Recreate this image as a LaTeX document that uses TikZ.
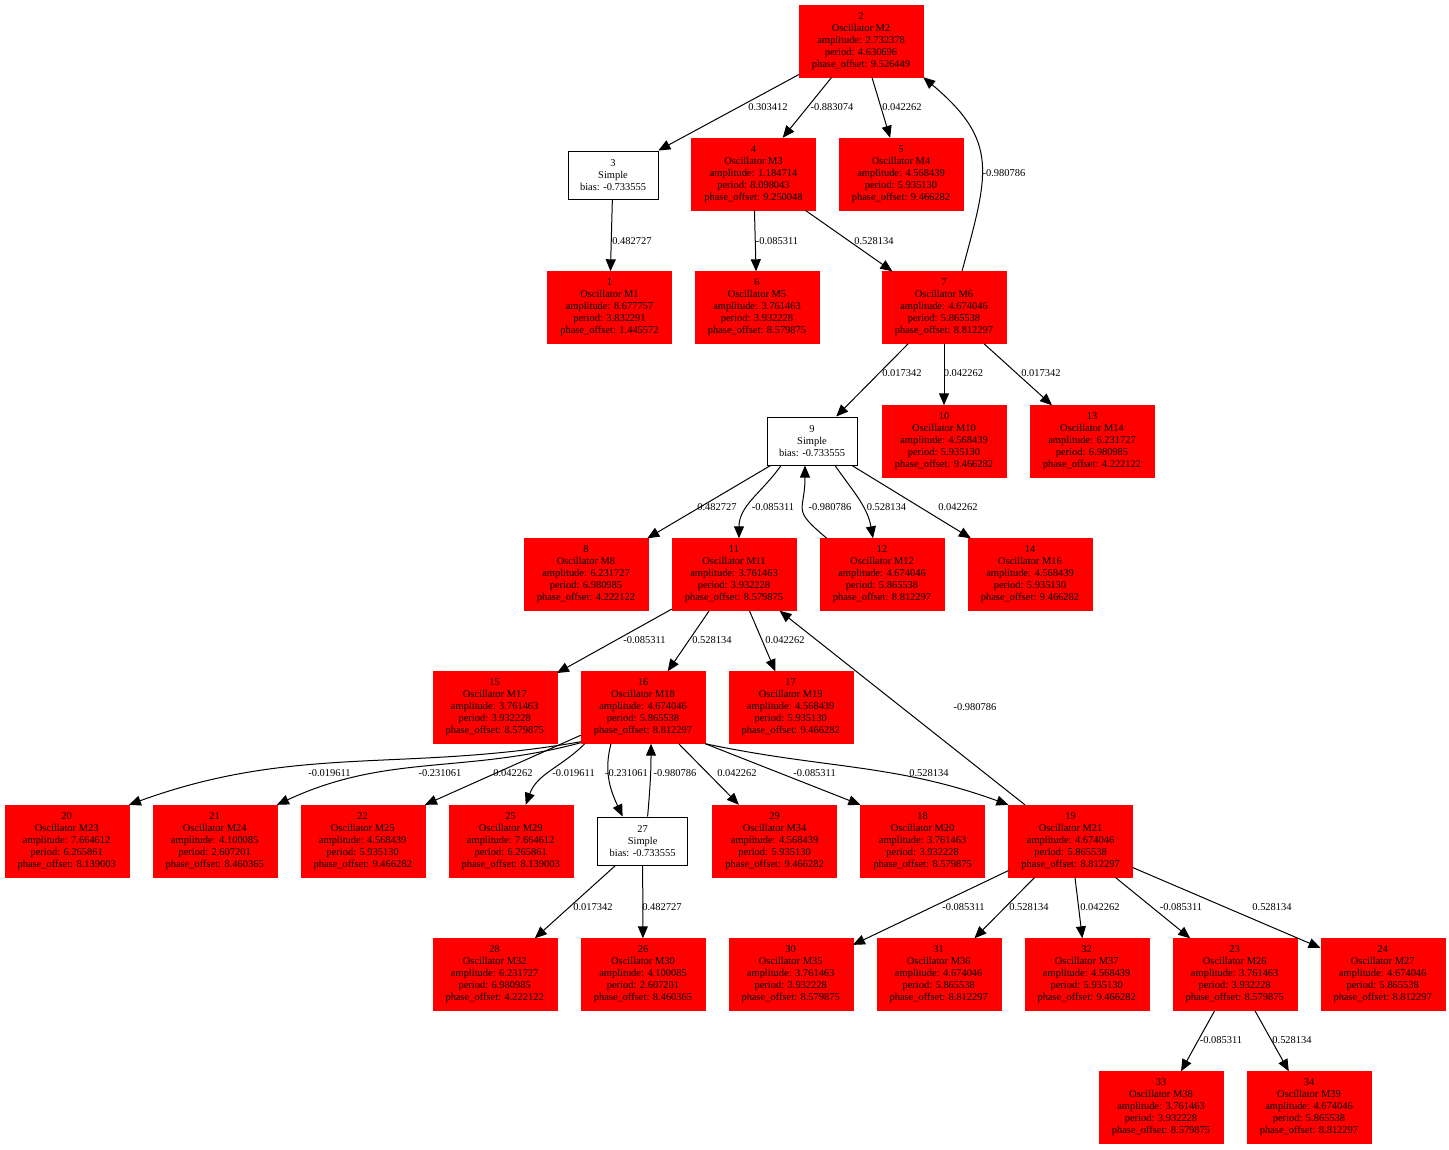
\documentclass[tikz,border=0pt]{standalone}
\usepackage{fontspec}
\setmainfont{Liberation Serif}
\usetikzlibrary{arrows.meta}
\begin{document}
\begin{tikzpicture}[x=1bp,y=-1bp,
  every node/.style={font=\fontsize{10.5}{12.1}\selectfont},
  osc/.style={draw=red,fill=red,minimum width=124bp,minimum height=72bp,inner sep=0pt,align=center},
  simple/.style={draw,fill=white,line width=1bp,minimum width=90bp,minimum height=48bp,inner sep=0pt,align=center},
  link/.style={line width=1bp,-{Triangle[length=12bp,width=10bp]}},
  wt/.style={inner sep=0pt}]
\useasboundingbox (0,0) rectangle (1449,1149);
% rank 0-2
\node[osc] (n2) at (861,41) {2\\Oscillator M2\\amplitude: 2.732378\\period: 4.630696\\phase\_offset: 9.526449};
\node[simple] (n3) at (613,175) {3\\Simple\\bias: -0.733555};
\node[osc] (n4) at (753.5,174) {4\\Oscillator M3\\amplitude: 1.184714\\period: 8.098043\\phase\_offset: 9.250048};
\node[osc] (n5) at (901,174) {5\\Oscillator M4\\amplitude: 4.568439\\period: 5.935130\\phase\_offset: 9.466282};
\node[osc] (n1) at (609.5,307.5) {1\\Oscillator M1\\amplitude: 8.677757\\period: 3.832291\\phase\_offset: 1.445572};
\node[osc] (n6) at (757,307.5) {6\\Oscillator M5\\amplitude: 3.761463\\period: 3.932228\\phase\_offset: 8.579875};
\node[osc] (n7) at (944,307.5) {7\\Oscillator M6\\amplitude: 4.674046\\period: 5.865538\\phase\_offset: 8.812297};
% rank 3-5
\node[simple] (n9) at (812,441) {9\\Simple\\bias: -0.733555};
\node[osc] (n10) at (944,441.5) {10\\Oscillator M10\\amplitude: 4.568439\\period: 5.935130\\phase\_offset: 9.466282};
\node[osc] (n13) at (1092,441.5) {13\\Oscillator M14\\amplitude: 6.231727\\period: 6.980985\\phase\_offset: 4.222122};
\node[osc] (n8) at (586,574.5) {8\\Oscillator M8\\amplitude: 6.231727\\period: 6.980985\\phase\_offset: 4.222122};
\node[osc] (n11) at (734,574.5) {11\\Oscillator M11\\amplitude: 3.761463\\period: 3.932228\\phase\_offset: 8.579875};
\node[osc] (n12) at (882,574.5) {12\\Oscillator M12\\amplitude: 4.674046\\period: 5.865538\\phase\_offset: 8.812297};
\node[osc] (n14) at (1030,574.5) {14\\Oscillator M16\\amplitude: 4.568439\\period: 5.935130\\phase\_offset: 9.466282};
\node[osc] (n15) at (494.7,707.5) {15\\Oscillator M17\\amplitude: 3.761463\\period: 3.932228\\phase\_offset: 8.579875};
\node[osc] (n16) at (643,707.5) {16\\Oscillator M18\\amplitude: 4.674046\\period: 5.865538\\phase\_offset: 8.812297};
\node[osc] (n17) at (790.7,707.5) {17\\Oscillator M19\\amplitude: 4.568439\\period: 5.935130\\phase\_offset: 9.466282};
% rank 6
\node[osc] (n20) at (66.7,841) {20\\Oscillator M23\\amplitude: 7.664612\\period: 6.265861\\phase\_offset: 8.139003};
\node[osc] (n21) at (214.7,841) {21\\Oscillator M24\\amplitude: 4.100085\\period: 2.607201\\phase\_offset: 8.460365};
\node[osc] (n22) at (362.7,841) {22\\Oscillator M25\\amplitude: 4.568439\\period: 5.935130\\phase\_offset: 9.466282};
\node[osc] (n25) at (510.7,841) {25\\Oscillator M29\\amplitude: 7.664612\\period: 6.265861\\phase\_offset: 8.139003};
\node[simple] (n27) at (642.6,841) {27\\Simple\\bias: -0.733555};
\node[osc] (n29) at (774.6,841) {29\\Oscillator M34\\amplitude: 4.568439\\period: 5.935130\\phase\_offset: 9.466282};
\node[osc] (n18) at (922.6,841) {18\\Oscillator M20\\amplitude: 3.761463\\period: 3.932228\\phase\_offset: 8.579875};
\node[osc] (n19) at (1070.6,841) {19\\Oscillator M21\\amplitude: 4.674046\\period: 5.865538\\phase\_offset: 8.812297};
% rank 7-8
\node[osc] (n28) at (494.7,974.5) {28\\Oscillator M32\\amplitude: 6.231727\\period: 6.980985\\phase\_offset: 4.222122};
\node[osc] (n26) at (643,974.5) {26\\Oscillator M30\\amplitude: 4.100085\\period: 2.607201\\phase\_offset: 8.460365};
\node[osc] (n30) at (790.7,974.5) {30\\Oscillator M35\\amplitude: 3.761463\\period: 3.932228\\phase\_offset: 8.579875};
\node[osc] (n31) at (938.7,974.5) {31\\Oscillator M36\\amplitude: 4.674046\\period: 5.865538\\phase\_offset: 8.812297};
\node[osc] (n32) at (1086.7,974.5) {32\\Oscillator M37\\amplitude: 4.568439\\period: 5.935130\\phase\_offset: 9.466282};
\node[osc] (n23) at (1234.7,974.5) {23\\Oscillator M26\\amplitude: 3.761463\\period: 3.932228\\phase\_offset: 8.579875};
\node[osc] (n24) at (1382.7,974.5) {24\\Oscillator M27\\amplitude: 4.674046\\period: 5.865538\\phase\_offset: 8.812297};
\node[osc] (n33) at (1161,1107.5) {33\\Oscillator M38\\amplitude: 3.761463\\period: 3.932228\\phase\_offset: 8.579875};
\node[osc] (n34) at (1309,1107.5) {34\\Oscillator M39\\amplitude: 4.674046\\period: 5.865538\\phase\_offset: 8.812297};
% edges from 2, 3, 4, 7
\draw[link] (n2) -- (n3) node[wt] at (768,107) {0.303412};
\draw[link] (n2) -- (n4) node[wt] at (832,107) {-0.883074};
\draw[link] (n2) -- (n5) node[wt] at (902,107) {0.042262};
\draw[link] ([xshift=18bp]n7.north) to[out=75,in=-40,looseness=1.3] (n2.south east) node[wt] at (1004,173) {-0.980786};
\draw[link] (n3) -- (n1) node[wt] at (632,241) {0.482727};
\draw[link] (n4) -- (n6) node[wt] at (777,241) {-0.085311};
\draw[link] (n4) -- (n7) node[wt] at (874,241) {0.528134};
\draw[link] (n7) -- (n9) node[wt] at (902,373) {0.017342};
\draw[link] (n7) -- (n10) node[wt] at (963.5,373) {0.042262};
\draw[link] (n7) -- (n13) node[wt] at (1041,373) {0.017342};
% edges round 9
\draw[link] (n9) -- (n8) node[wt] at (717,507) {0.482727};
\draw[link] ([xshift=-31bp]n9.south) to[out=-125,in=90] ([xshift=5bp]n11.north) node[wt] at (773,507) {-0.085311};
\draw[link] ([xshift=7bp]n12.north west) to[out=140,in=-90,looseness=1.6] ([xshift=-7bp]n9.south) node[wt] at (830,507) {-0.980786};
\draw[link] ([xshift=23bp]n9.south) to[out=-55,in=100] ([xshift=-9bp]n12.north) node[wt] at (886.5,507) {0.528134};
\draw[link] (n9) -- (n14) node[wt] at (958,507) {0.042262};
% edges round 11
\draw[link] (n11) -- (n15) node[wt] at (644.5,640) {-0.085311};
\draw[link] (n11) -- (n16) node[wt] at (712,640) {0.528134};
\draw[link] (n11) -- (n17) node[wt] at (785,640) {0.042262};
\draw[link] (n19) -- (n11) node[wt] at (975,707) {-0.980786};
% edges from 16
\draw[link] ([yshift=2bp]n16.south west) to[out=190,in=20] (n20.north east) node[wt] at (329.5,773) {-0.019611};
\draw[link] ([yshift=1bp]n16.south west) to[out=195,in=25] (n21.north east) node[wt] at (440,773) {-0.231061};
\draw[link] (n16) -- (n22.north east) node[wt] at (513,773) {0.042262};
\draw[link] ([xshift=4bp]n16.south west) to[out=-135,in=70] ([xshift=15bp]n25.north) node[wt] at (573.6,773) {-0.019611};
\draw[link] ([xshift=-32bp]n16.south) to[out=-105,in=115] ([xshift=-20bp]n27.north) node[wt] at (626.5,773) {-0.231061};
\draw[link] ([xshift=5bp]n27.north) to[out=85,in=-90] ([xshift=8bp]n16.south) node[wt] at (675,773) {-0.980786};
\draw[link] (n16) -- (n29) node[wt] at (737,773) {0.042262};
\draw[link] (n16.south east) -- (n18.north west) node[wt] at (814.6,773) {-0.085311};
\draw[link] (n16.south east) to[out=-12,in=160] (n19.north west) node[wt] at (929,773) {0.528134};
% edges from 27, 19, 23
\draw[link] (n27) -- (n28) node[wt] at (593,907) {0.017342};
\draw[link] (n27) -- (n26) node[wt] at (662,907) {0.482727};
\draw[link] (n19) -- (n30) node[wt] at (963.5,907) {-0.085311};
\draw[link] (n19) -- (n31) node[wt] at (1029,907) {0.528134};
\draw[link] (n19) -- (n32) node[wt] at (1100,907) {0.042262};
\draw[link] (n19) -- (n23) node[wt] at (1181,907) {-0.085311};
\draw[link] (n19) -- (n24) node[wt] at (1272,907) {0.528134};
\draw[link] (n23) -- (n33) node[wt] at (1221,1040) {-0.085311};
\draw[link] (n23) -- (n34) node[wt] at (1292,1040) {0.528134};
\end{tikzpicture}
\end{document}
